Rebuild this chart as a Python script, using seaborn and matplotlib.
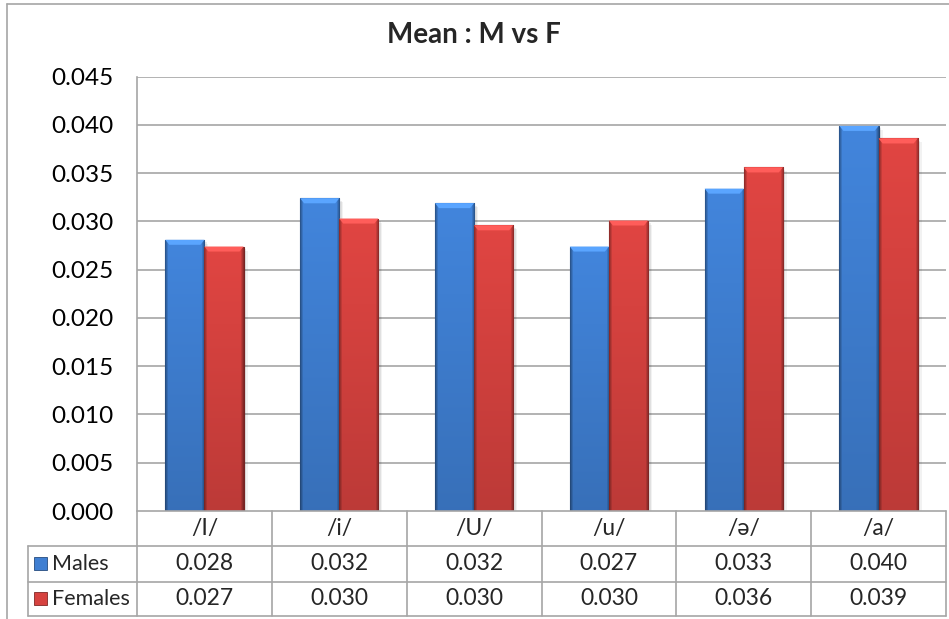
import numpy as np
import pandas as pd
import matplotlib
matplotlib.use("Agg")
import matplotlib.pyplot as plt
from matplotlib.patches import Rectangle, Polygon
from matplotlib.lines import Line2D
import matplotlib.colors as mcolors
import seaborn as sns

# Mean values per vowel
vowels = ["/I/", "/i/", "/U/", "/u/", "/ə/", "/a/"]
males = [0.0281, 0.0324, 0.0319, 0.0274, 0.0334, 0.0399]
females = [0.0274, 0.0303, 0.0296, 0.0301, 0.0356, 0.0386]
series = ["Males", "Females"]
yticks = [0.000, 0.005, 0.010, 0.015, 0.020, 0.025, 0.030, 0.035, 0.040, 0.045]
title = "Mean : M vs F"

BLUE = "#3f7fd2"
RED = "#d6423f"
GRID = "#a6a6a6"
FONT = ["Lato", "DejaVu Sans"]

sns.set_theme(style="white")
plt.rcParams["font.family"] = FONT

W, H = 949, 619
fig = plt.figure(figsize=(W / 100, H / 100), dpi=100)


def fx(px):
    return px / W


def fy(py):
    return 1 - py / H


# plot area in pixels
L, R, T, B = 137, 946, 76.7, 511
ax = fig.add_axes([fx(L), fy(B), fx(R) - fx(L), fy(T) - fy(B)])

df = pd.DataFrame({
    "vowel": vowels * 2,
    "sex": [series[0]] * len(vowels) + [series[1]] * len(vowels),
    "mean": males + females,
})
sns.barplot(data=df, x="vowel", y="mean", hue="sex", palette=[BLUE, RED],
            width=0.58, gap=0, legend=False, ax=ax, errorbar=None,
            saturation=1, zorder=3)

ax.set_xlim(-0.5, len(vowels) - 0.5)
ax.set_ylim(0, 0.045)
ax.set_yticks(yticks)
ax.set_yticklabels([f"{v:.3f}" for v in yticks], fontsize=17.5, color="black")
ax.tick_params(axis="y", length=0, pad=17)
ax.set_xticks([])
ax.set_xlabel("")
ax.set_ylabel("")
ax.grid(False)
for v in yticks[1:]:
    ax.axhline(v, color=GRID, lw=1.2, zorder=1)
for s in ["top", "right", "bottom"]:
    ax.spines[s].set_visible(False)
ax.spines["left"].set_color(GRID)
ax.spines["left"].set_linewidth(1.2)

# bevelled shading for each bar
px_x = (len(vowels)) / (R - L)      # data units per pixel, x
px_y = 0.045 / (B - T)             # data units per pixel, y
for patch in list(ax.patches):
    x0 = patch.get_x()
    w = patch.get_width()
    h = patch.get_height()
    base = np.array(mcolors.to_rgb(patch.get_facecolor()))
    # soft shadow to the right
    for k, a in [(4, 0.05), (2.5, 0.07)]:
        ax.add_patch(Rectangle((x0 + k * px_x, 0), w, h - k * px_y,
                               facecolor="black", alpha=a, lw=0, zorder=2))
    ny, nx = 200, 40
    yy = np.linspace(0, 1, ny)[:, None]     # 0 top, 1 bottom
    xx = np.linspace(0, 1, nx)[None, :]
    vert = 1.05 - 0.17 * yy
    edge = 1 - 0.35 * (np.clip(1 - xx * w / (3 * px_x), 0, 1)
                        + np.clip(1 - (1 - xx) * w / (3 * px_x), 0, 1))
    img = np.clip(base[None, None, :] * (vert * edge)[:, :, None], 0, 1)
    im = ax.imshow(img, extent=[x0, x0 + w, 0, h], aspect="auto",
                   zorder=3.5, interpolation="bilinear")
    im.set_clip_path(patch)
    patch.set_edgecolor(tuple(base * 0.55))
    patch.set_linewidth(0.8)
    # lighter top cap
    dx, dy = 4 * px_x, 5 * px_y
    cap = Polygon([(x0, h), (x0 + w, h), (x0 + w - dx, h - dy), (x0 + dx, h - dy)],
                  closed=True, facecolor=tuple(np.clip(base * 1.18 + 0.06, 0, 1)),
                  edgecolor="none", zorder=4)
    ax.add_patch(cap)
ax.set_xlim(-0.5, len(vowels) - 0.5)
ax.set_ylim(0, 0.045)

# data table beneath the plot
line_kw = dict(color=GRID, lw=1.2, transform=fig.transFigure, zorder=5)
rows = [511, 546, 581.7, 616]
cols = [L + i * (R - L) / len(vowels) for i in range(len(vowels) + 1)]
LEG = 28
fig.add_artist(Line2D([fx(L), fx(R)], [fy(rows[0])] * 2, **line_kw))
for r in rows[1:]:
    fig.add_artist(Line2D([fx(LEG), fx(R)], [fy(r)] * 2, **line_kw))
for c in cols:
    fig.add_artist(Line2D([fx(c)] * 2, [fy(rows[0]), fy(rows[-1])], **line_kw))
fig.add_artist(Line2D([fx(LEG)] * 2, [fy(rows[1]), fy(rows[-1])], **line_kw))

TS = 16.5
for i, v in enumerate(vowels):
    cx = (cols[i] + cols[i + 1]) / 2
    fig.text(fx(cx), fy((rows[0] + rows[1]) / 2), v, ha="center", va="center",
             fontsize=TS, family=FONT)
    fig.text(fx(cx), fy((rows[1] + rows[2]) / 2), f"{males[i]:.3f}",
             ha="center", va="center", fontsize=TS)
    fig.text(fx(cx), fy((rows[2] + rows[3]) / 2), f"{females[i]:.3f}",
             ha="center", va="center", fontsize=TS)

for j, (name, col) in enumerate(zip(series, [BLUE, RED])):
    cy = (rows[j + 1] + rows[j + 2]) / 2
    sq = 13
    fig.add_artist(Rectangle((fx(34), fy(cy + sq / 2)), fx(sq), fy(0) - fy(sq),
                             transform=fig.transFigure, facecolor=col,
                             edgecolor=tuple(np.array(mcolors.to_rgb(col)) * 0.6),
                             lw=0.6))
    fig.text(fx(52), fy(cy), name, ha="left", va="center", fontsize=15.5)

# chart frame
fig.add_artist(Line2D([fx(7), 1], [fy(4)] * 2, color=GRID, lw=1.2,
                      transform=fig.transFigure))
fig.add_artist(Line2D([fx(7)] * 2, [fy(4), 0], color=GRID, lw=1.2,
                      transform=fig.transFigure))

fig.text(fx(474), fy(35), title, ha="center", va="center", fontsize=20,
         fontweight="bold")

fig.savefig("out.png", dpi=100)
